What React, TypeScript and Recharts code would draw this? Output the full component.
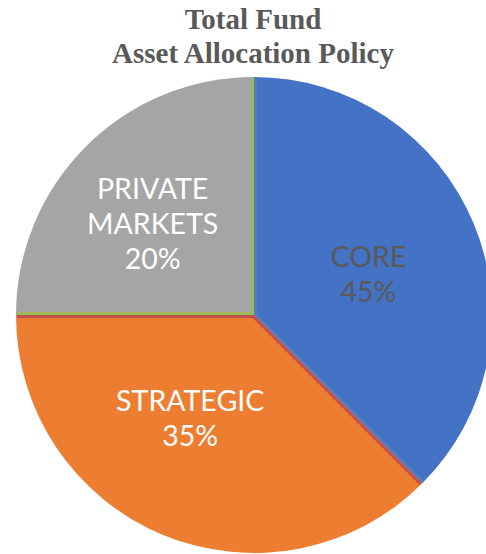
import { PieChart, Pie, Cell } from "recharts";

// slice sizes as drawn in the picture, and the percentages printed on them
const categories = ["CORE", "STRATEGIC", "PRIVATE MARKETS"];
const shares = [37.5, 37.5, 25];
const printedPercents = ["45%", "35%", "20%"];

const COLORS = ["#4472C4", "#ED7D31", "#A5A5A5"];
const EDGE_COLORS = ["#4F81BD", "#C0504D", "#9BBB59"]; // thin inner edge on each slice
const TEXT_COLORS = ["#595959", "#FFFFFF", "#FFFFFF"];
// small nudges so the labels sit where the original put them
const LABEL_NUDGE = [
    [-1, 6],
    [-16, -13],
    [-13, -4],
];

const data = categories.map((name, i) => ({
    name,
    value: shares[i],
    pct: printedPercents[i],
}));

const RAD = Math.PI / 180;

const renderLabel = (props: any) => {
    const { cx, cy, midAngle, outerRadius, startAngle, endAngle, index } = props;
    const off = 1.5;
    const edge = (a: number, isStart: boolean) => {
        const ux = Math.cos(a * RAD);
        const uy = -Math.sin(a * RAD);
        const nx = (isStart ? 1 : -1) * Math.sin(a * RAD);
        const ny = (isStart ? 1 : -1) * Math.cos(a * RAD);
        const r = outerRadius - 1;
        return (
            <line
                x1={cx + off * nx}
                y1={cy + off * ny}
                x2={cx + r * ux + off * nx}
                y2={cy + r * uy + off * ny}
                stroke={EDGE_COLORS[index]}
                strokeWidth={3}
            />
        );
    };
    const r = outerRadius * 0.525;
    const lx = cx + r * Math.cos(midAngle * RAD) + LABEL_NUDGE[index][0];
    const ly = cy - r * Math.sin(midAngle * RAD) + LABEL_NUDGE[index][1];
    const lines = [...data[index].name.split(" "), data[index].pct];
    const lh = 35;
    const top = ly - ((lines.length - 1) * lh) / 2;
    return (
        <g key={`lab-${index}`}>
            {startAngle !== undefined && edge(startAngle, true)}
            {endAngle !== undefined && edge(endAngle, false)}
            <text
                x={lx}
                y={top}
                textAnchor="middle"
                fill={TEXT_COLORS[index]}
                fontFamily="Lato, 'Open Sans', sans-serif"
                fontSize={28.5}
            >
                {lines.map((t, i) => (
                    <tspan key={i} x={lx} y={top + i * lh} dominantBaseline="central">
                        {t}
                    </tspan>
                ))}
            </text>
        </g>
    );
};

export default function App() {
    return (
        <div style={{ position: "absolute", left: 0, top: 0, width: 486, height: 554, background: "#fff" }}>
            <div
                style={{
                    position: "absolute",
                    top: 2,
                    left: 0,
                    width: 486,
                    paddingLeft: 20,
                    boxSizing: "border-box",
                    textAlign: "center",
                    fontFamily: "'Liberation Serif', serif",
                    fontWeight: "bold",
                    fontSize: 29,
                    lineHeight: "34px",
                    color: "#595959",
                }}
            >
                Total Fund
                <br />
                Asset Allocation Policy
            </div>
            <PieChart width={486} height={554} margin={{ top: 0, right: 0, bottom: 0, left: 0 }}>
                <Pie
                    data={data}
                    dataKey="value"
                    nameKey="name"
                    cx={254}
                    cy={315}
                    outerRadius={238}
                    startAngle={90}
                    endAngle={-270}
                    stroke="none"
                    label={renderLabel}
                    labelLine={false}
                    isAnimationActive={false}
                >
                    {data.map((entry, index) => (
                        <Cell key={`cell-${index}`} fill={COLORS[index % COLORS.length]} />
                    ))}
                </Pie>
            </PieChart>
        </div>
    );
}
